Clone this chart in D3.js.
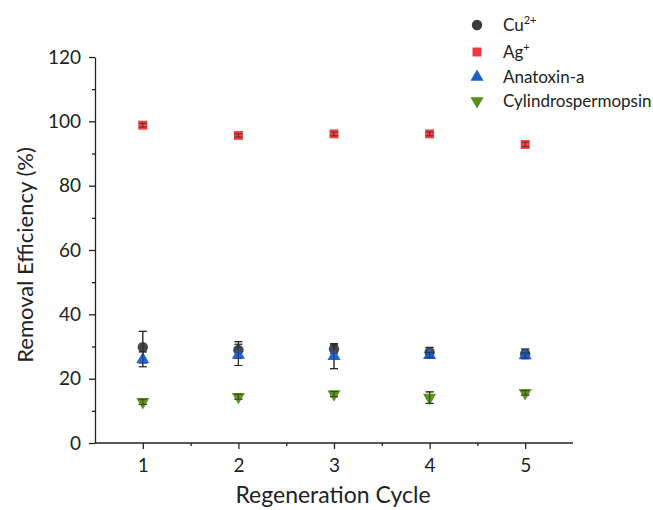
<!DOCTYPE html>
<html>
<head>
<meta charset="utf-8">
<script src="https://cdn.jsdelivr.net/npm/d3@7"></script>
<style>
  body { margin: 0; background: #fff; }
  text { font-family: Lato, "Open Sans", sans-serif; fill: #222; }
</style>
</head>
<body>
<svg id="chart" width="653" height="510"></svg>
<script>
// regeneration cycles
const cycles = [1, 2, 3, 4, 5];

// mean removal efficiency (%) and error for each series
const cuVals = [29.8, 28.9, 29.2, 28.2, 27.7];
const cuErr = [4.9, 2.6, 1.3, 1.5, 1.5];
const agVals = [98.8, 95.6, 96.1, 96.1, 92.8];
const agErr = [0.6, 0.5, 0.6, 0.6, 0.7];
const anaVals = [26.0, 27.4, 27.0, 27.3, 27.2];
const anaErr = [2.3, 3.3, 3.9, 0.8, 0.8];
const cylVals = [12.8, 14.4, 15.2, 14.1, 15.6];
const cylErr = [0.8, 0.8, 0.8, 1.8, 0.7];

const yTicks = [0, 20, 40, 60, 80, 100, 120];
const yMinor = [10, 30, 50, 70, 90, 110];
const xMinor = [1.5, 2.5, 3.5, 4.5];

const series = [
  { name: 'Cu', sup: '2+', vals: cuVals, err: cuErr, color: '#3b3b3b', shape: d3.symbolCircle, size: 85 },
  { name: 'Ag', sup: '+', vals: agVals, err: agErr, color: '#ee3b3b', shape: d3.symbolSquare, size: 80 },
  { name: 'Anatoxin-a', sup: '', vals: anaVals, err: anaErr, color: '#1a5fd0', shape: d3.symbolTriangle, size: 75 },
  { name: 'Cylindrospermopsin', sup: '', vals: cylVals, err: cylErr, color: '#568f12', shape: d3.symbolTriangle, size: 75, flip: true },
];

const svg = d3.select('#chart');
const x = d3.scaleLinear().domain([0.5, 5.5]).range([95, 573]);
const y = d3.scaleLinear().domain([0, 120]).range([443, 57]);

// axes
const xAxis = svg.append('g').attr('transform', 'translate(0,443)')
  .call(d3.axisBottom(x).tickValues(cycles).tickFormat(d3.format('d')).tickSize(6).tickPadding(10));
svg.append('g').attr('transform', 'translate(0,443)')
  .call(d3.axisBottom(x).tickValues(xMinor).tickFormat('').tickSize(3).tickSizeOuter(0))
  .select('.domain').remove();
const yAxis = svg.append('g').attr('transform', 'translate(95,0)')
  .call(d3.axisLeft(y).tickValues(yTicks).tickSize(6).tickPadding(8).tickSizeOuter(0));
svg.append('g').attr('transform', 'translate(95,0)')
  .call(d3.axisLeft(y).tickValues(yMinor).tickFormat('').tickSize(3))
  .select('.domain').remove();

svg.selectAll('.domain, .tick line').attr('stroke', '#222').attr('stroke-width', 1.3);
xAxis.select('.domain').attr('d', 'M95,0H573');
svg.selectAll('.tick text').attr('font-size', 19).attr('fill', '#222')
  .style('font-family', 'Lato, "Open Sans", sans-serif');

// axis titles
svg.append('text').attr('x', 333).attr('y', 503).attr('text-anchor', 'middle')
  .attr('font-size', 23).text('Regeneration Cycle');
svg.append('text').attr('transform', 'translate(33,255) rotate(-90)').attr('text-anchor', 'middle')
  .attr('font-size', 22).text('Removal Efficiency (%)');

// error bars and markers
series.forEach(s => {
  const g = svg.append('g');
  const pts = cycles.map((c, i) => ({ c, v: s.vals[i], e: s.err[i] }));
  const barPath = d => {
    const cx = x(d.c), y1 = y(d.v + d.e), y2 = y(d.v - d.e);
    return `M${cx},${y1}V${y2}M${cx - 4},${y1}H${cx + 4}M${cx - 4},${y2}H${cx + 4}`;
  };
  g.selectAll('path.bar').data(pts).enter().append('path')
    .attr('d', barPath)
    .attr('stroke', '#333').attr('stroke-width', 1.2).attr('fill', 'none');
  g.selectAll('path.mk').data(pts).enter().append('path')
    .attr('d', d3.symbol().type(s.shape).size(s.size))
    .attr('transform', d => `translate(${x(d.c)},${y(d.v)})` + (s.flip ? ' rotate(180)' : ''))
    .attr('fill', s.color).attr('fill-opacity', 0.95);
  // bars show through the markers in the original
  g.selectAll('path.bar2').data(pts).enter().append('path')
    .attr('d', barPath)
    .attr('stroke', '#222').attr('stroke-width', 1).attr('stroke-opacity', 0.6).attr('fill', 'none');
});

// legend
const legY = [25, 52, 77, 101];
series.forEach((s, i) => {
  svg.append('path')
    .attr('d', d3.symbol().type(s.shape).size(s.size))
    .attr('transform', `translate(477,${legY[i]})` + (s.flip ? ' rotate(180)' : ''))
    .attr('fill', s.color);
  const t = svg.append('text').attr('x', 503).attr('y', legY[i] + 6).attr('font-size', 17).text(s.name);
  if (s.sup) t.append('tspan').attr('dy', -7).attr('font-size', 11).text(s.sup);
});
</script>
</body>
</html>
